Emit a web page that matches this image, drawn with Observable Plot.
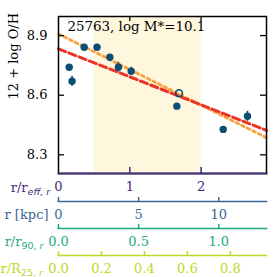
<!DOCTYPE html>
<html><head><meta charset="utf-8">
<script src="https://cdn.jsdelivr.net/npm/d3@7"></script>
<script src="https://cdn.jsdelivr.net/npm/@observablehq/plot@0.6"></script>
<style>
body{margin:0;background:#fff;}
#chart{position:relative;width:277px;height:277px;overflow:hidden;font-family:"DejaVu Serif",serif;}
#chart svg{position:absolute;left:0;overflow:visible;}
</style></head><body><div id="chart"></div>
<script>
// ---- data ----
const title = "25763, log M*=10.1";
const yLabel = "12 + log O/H";
const radius = [0.15, 0.19, 0.36, 0.54, 0.72, 0.84, 1.02, 1.66, 2.31, 2.65];
const oh     = [8.741, 8.670, 8.841, 8.841, 8.791, 8.741, 8.721, 8.545, 8.428, 8.494];
const ohErr  = [0, 0.025, 0, 0, 0.012, 0.025, 0.02, 0, 0, 0.025];
const openRadius = [1.69];
const openOh = [8.610];
const dashedR = [0, 2.917];
const dashedOh = [8.833, 8.423];
const dottedR = [0, 2.917];
const dottedOh = [8.908, 8.386];
const shadeRange = [0.5, 2.0];
const reffTicks = [0, 1, 2];
const yTicks = [8.3, 8.6, 8.9];
const kpcTicks = [0, 5, 10];
const r90Ticks = [0, 0.5, 1.0];
const r25Ticks = [0, 0.2, 0.4, 0.6, 0.8];
const reffMax = 2.917, kpcMax = 12.98, r90Max = 1.298, r25Max = 0.968;
const yDomain = [8.206, 8.996];

// ---- layout / style ----
const W = 277, H = 277, ML = 58, MR = 11, MT = 16, MB = 104;
const innerW = W - ML - MR, innerH = H - MT - MB;
const FONT = '"DejaVu Serif", serif';
const cPurple = "#472c7a", cBlue = "#3b6894", cTeal = "#25a983", cLime = "#bcd92a";
const cPoint = "#0c4e74";

const pts = radius.map((r, i) => ({r, oh: oh[i], err: ohErr[i]}));
const openPts = openRadius.map((r, i) => ({r, oh: openOh[i]}));
const dashed = dashedR.map((r, i) => ({r, oh: dashedOh[i]}));
const dotted = dottedR.map((r, i) => ({r, oh: dottedOh[i]}));

const chart = document.getElementById("chart");

const main = Plot.plot({
  width: W, height: H, marginLeft: ML, marginRight: MR, marginTop: MT, marginBottom: MB,
  style: {fontFamily: FONT, fontSize: "13px", background: "transparent", overflow: "visible"},
  x: {domain: [0, reffMax]},
  y: {domain: yDomain},
  marks: [
    Plot.rect([shadeRange], {x1: d => d[0], x2: d => d[1], fill: "#fef7dd"}),
    Plot.line(dotted, {x: "r", y: "oh", stroke: "#f9a13c", strokeWidth: 2.8, strokeDasharray: "2.8,3.4"}),
    Plot.line(dashed, {x: "r", y: "oh", stroke: "#ec3426", strokeWidth: 3, strokeDasharray: "7.5,3.5"}),
    Plot.ruleX(pts.filter(d => d.err > 0), {x: "r", y1: d => d.oh - d.err, y2: d => d.oh + d.err, stroke: cPoint, strokeWidth: 1.6}),
    Plot.dot(pts, {x: "r", y: "oh", r: 3.7, fill: cPoint}),
    Plot.dot(openPts, {x: "r", y: "oh", r: 3.4, stroke: cPoint, strokeWidth: 1.6, fill: "none"}),
    Plot.ruleY(yTicks, {insetRight: innerW - 6, stroke: "#000", strokeWidth: 1.3}),
    Plot.ruleY(yTicks, {insetLeft: innerW - 6, stroke: "#000", strokeWidth: 1.3}),
    Plot.ruleX(reffTicks.filter(v => v > 0), {insetBottom: innerH - 5, stroke: "#000", strokeWidth: 1.3}),
    Plot.ruleX(reffTicks.filter(v => v > 0), {insetTop: innerH - 6, stroke: cPurple, strokeWidth: 1.5}),
    Plot.frame({stroke: "#000", strokeWidth: 1.5}),
    Plot.frame({anchor: "bottom", stroke: cPurple, strokeWidth: 1.8}),
    Plot.axisY({ticks: yTicks, tickSize: 0, tickPadding: 11, tickFormat: ".1f", label: null, fontSize: 13}),
    Plot.axisX({ticks: reffTicks, tickSize: 0, tickPadding: 8, tickFormat: "d", label: null, fill: cPurple, fontSize: 13}),
    Plot.text([title], {frameAnchor: "top-left", lineAnchor: "middle", dx: 9, dy: 10.4, textAnchor: "start", fontSize: 13.4}),
    Plot.text([yLabel], {frameAnchor: "left", lineAnchor: "middle", rotate: -90, dx: -44.5, dy: 4.5, fontSize: 13}),
    Plot.text(["r/r"], {frameAnchor: "bottom-left", lineAnchor: "middle", dx: -8.3, dy: 14, textAnchor: "end", fill: cPurple, fontSize: 13})
  ]
});
main.style.top = "0px";
chart.appendChild(main);

function addSub(svg, mainText, parts) {
  d3.select(svg).selectAll("text").filter(function() { return this.textContent === mainText; })
    .each(function() {
      const t = d3.select(this);
      const first = t.append("tspan").attr("dy", "3").attr("font-size", "9.5px").attr("font-family", '"DejaVu Sans", sans-serif');
      parts.forEach(p => first.append("tspan").attr("font-style", p.italic ? "italic" : "normal").text(p.text));
    });
}
addSub(main, "r/r", [{text: "eff, r", italic: true}]);

function secAxis({max, ticks, fmt, color, lineY, label, dx, sub}) {
  const p = Plot.plot({
    width: W, height: 30, marginLeft: ML, marginRight: MR, marginTop: 8, marginBottom: 21,
    style: {fontFamily: FONT, fontSize: "13px", background: "transparent", overflow: "visible"},
    x: {domain: [0, max]},
    marks: [
      Plot.frame({anchor: "top", stroke: color, strokeWidth: 1.7}),
      Plot.axisX({anchor: "top", ticks, tickSize: 5, tickFormat: () => "", stroke: color, strokeWidth: 1.5, label: null}),
      Plot.axisX({anchor: "bottom", ticks, tickSize: 0, tickPadding: 7, tickFormat: fmt, fill: color, label: null, fontSize: 13}),
      Plot.text([label], {frameAnchor: "left", lineAnchor: "middle", dx, dy: 12.5, textAnchor: "end", fill: color, fontSize: 13})
    ]
  });
  p.style.top = (lineY - 8) + "px";
  chart.appendChild(p);
  if (sub) addSub(p, label, sub);
}
secAxis({max: kpcMax, ticks: kpcTicks, fmt: "d", color: cBlue, lineY: 200.5, label: "r [kpc]", dx: -10});
secAxis({max: r90Max, ticks: r90Ticks, fmt: ".1f", color: cTeal, lineY: 227.5, label: "r/r", dx: -15,
  sub: [{text: "90, ", italic: false}, {text: "r", italic: true}]});
secAxis({max: r25Max, ticks: r25Ticks, fmt: ".1f", color: cLime, lineY: 254.5, label: "r/R", dx: -15.6,
  sub: [{text: "25, ", italic: false}, {text: "r", italic: true}]});
</script></body></html>
